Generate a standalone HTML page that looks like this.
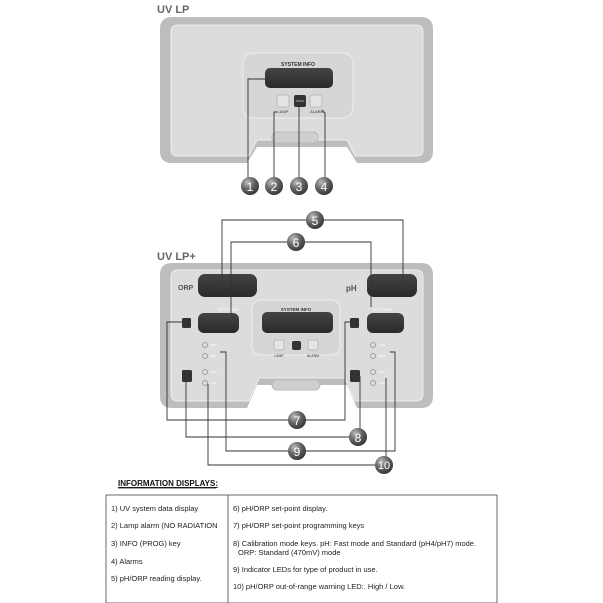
<!DOCTYPE html>
<html><head><style>html,body{margin:0;padding:0;background:#fff;width:603px;height:603px;overflow:hidden}</style></head>
<body>
<svg width="603" height="603" viewBox="0 0 603 603" xmlns="http://www.w3.org/2000/svg" font-family="Liberation Sans, sans-serif">
<defs>
<radialGradient id="ball" cx="35%" cy="30%" r="75%"><stop offset="0" stop-color="#bbb"/><stop offset="0.5" stop-color="#666"/><stop offset="1" stop-color="#333"/></radialGradient>
<linearGradient id="disp" x1="0" x2="0" y1="0" y2="1"><stop offset="0" stop-color="#444"/><stop offset="1" stop-color="#2a2a2a"/></linearGradient>
</defs>
<!-- TOP PANEL -->
<text x="157" y="13" font-size="11" font-weight="bold" fill="#666">UV LP</text>
<path d="M172,17 H421 Q433,17 433,29 V151 Q433,163 421,163 H357 L347,147 H257 L247,163 H172 Q160,163 160,151 V29 Q160,17 172,17Z" fill="#bdbdbd"/>
<path d="M178,25 H416 Q423,25 423,32 V150 Q423,156 416,156 H355 L347,140 H257 L249,156 H178 Q171,156 171,150 V32 Q171,25 178,25Z" fill="#dcdcdc" stroke="#eee"/>
<rect x="243" y="53" width="110" height="65" rx="10" fill="#d6d6d6" stroke="#eee"/>
<text x="298" y="66" font-size="5" font-weight="bold" text-anchor="middle" fill="#333">SYSTEM INFO</text>
<rect x="265" y="68" width="68" height="20" rx="5" fill="url(#disp)"/>
<rect x="277" y="95" width="12" height="12" rx="2" fill="#e4e4e4" stroke="#bbb"/>
<rect x="294" y="95" width="12" height="12" rx="2" fill="#333"/>
<text x="300" y="102" font-size="3" fill="#ccc" text-anchor="middle">PROG</text>
<rect x="310" y="95" width="12" height="12" rx="2" fill="#e4e4e4" stroke="#bbb"/>
<text x="283" y="113" font-size="4" fill="#333" text-anchor="middle">LAMP</text>
<text x="317" y="113" font-size="4" fill="#333" text-anchor="middle">ALARM</text>
<rect x="272" y="132" width="46" height="11" rx="5" fill="#cfcfcf" stroke="#bbb"/>
<g fill="none" stroke="#333" stroke-width="0.9">
<path d="M248,178 V79 H265"/><path d="M274,178 V112 H277"/><path d="M299,178 V107"/><path d="M325,178 V113 L322,110"/>
</g>
<g font-size="12" fill="#fff" text-anchor="middle">
<circle cx="250" cy="186" r="9" fill="url(#ball)"/><text x="250" y="191">1</text>
<circle cx="274" cy="186" r="9" fill="url(#ball)"/><text x="274" y="191">2</text>
<circle cx="299" cy="186" r="9" fill="url(#ball)"/><text x="299" y="191">3</text>
<circle cx="324" cy="186" r="9" fill="url(#ball)"/><text x="324" y="191">4</text>
</g>
<!-- BOTTOM PANEL -->
<text x="157" y="260" font-size="11" font-weight="bold" fill="#666">UV LP+</text>
<path d="M172,263 H421 Q433,263 433,275 V396 Q433,408 421,408 H357 L347,385 H257 L247,408 H172 Q160,408 160,396 V275 Q160,263 172,263Z" fill="#bdbdbd"/>
<path d="M178,270 H416 Q423,270 423,277 V394 Q423,401 416,401 H355 L345,378 H259 L249,401 H178 Q171,401 171,394 V277 Q171,270 178,270Z" fill="#dcdcdc" stroke="#eee"/>
<text x="178" y="290" font-size="7" font-weight="bold" fill="#555">ORP</text>
<text x="346" y="291" font-size="8" font-weight="bold" fill="#555">pH</text>
<rect x="198" y="274" width="59" height="23" rx="7" fill="url(#disp)"/>
<rect x="367" y="274" width="50" height="23" rx="7" fill="url(#disp)"/>
<text x="218" y="311" font-size="4" fill="#fff">SET POINT</text>
<text x="372" y="311" font-size="4" fill="#fff">SET POINT</text>
<rect x="198" y="313" width="41" height="20" rx="6" fill="url(#disp)"/>
<rect x="367" y="313" width="37" height="20" rx="6" fill="url(#disp)"/>
<rect x="252" y="300" width="88" height="55" rx="9" fill="#d6d6d6" stroke="#eee"/>
<text x="296" y="311" font-size="4.5" font-weight="bold" text-anchor="middle" fill="#333">SYSTEM INFO</text>
<rect x="262" y="312" width="71" height="21" rx="5" fill="url(#disp)"/>
<rect x="274" y="340" width="10" height="10" rx="2" fill="#e4e4e4" stroke="#bbb"/>
<rect x="292" y="341" width="9" height="9" rx="2" fill="#333"/>
<rect x="308" y="340" width="10" height="10" rx="2" fill="#e4e4e4" stroke="#bbb"/>
<text x="279" y="357" font-size="3.5" fill="#333" text-anchor="middle">LAMP</text>
<text x="313" y="357" font-size="3.5" fill="#333" text-anchor="middle">ALARM</text>
<rect x="272" y="380" width="48" height="10" rx="5" fill="#cfcfcf" stroke="#bbb"/>
<rect x="182" y="318" width="9" height="10" rx="1.5" fill="#333"/><rect x="350" y="318" width="9" height="10" rx="1.5" fill="#333"/>
<rect x="182" y="370" width="10" height="12" rx="1.5" fill="#333"/><rect x="350" y="370" width="10" height="12" rx="1.5" fill="#333"/>
<g fill="#ddd" stroke="#888" stroke-width="0.7">
<circle cx="205" cy="345" r="2.5"/><circle cx="205" cy="356" r="2.5"/><circle cx="205" cy="372" r="2.5"/><circle cx="205" cy="383" r="2.5"/>
<circle cx="373" cy="345" r="2.5"/><circle cx="373" cy="356" r="2.5"/><circle cx="373" cy="372" r="2.5"/><circle cx="373" cy="383" r="2.5"/>
</g>
<g font-size="3" fill="#fff"><text x="210" y="346">MED</text><text x="210" y="357">BAS</text><text x="210" y="373">HIGH</text><text x="210" y="384">LOW</text>
<text x="378" y="346">ACID</text><text x="378" y="357">BASE</text><text x="378" y="373">HIGH</text><text x="378" y="384">LOW</text></g>
<g fill="none" stroke="#333" stroke-width="0.9">
<path d="M222,281 V220 H403 V283"/>
<path d="M231,314 V242 H371 V307"/>
<path d="M182,322 H167 V420 H345 V322 H350"/>
<path d="M186,382 V437 H357"/><path d="M360,376 V437"/>
<path d="M220,352 H226 V451 H395 V352 H390"/>
<path d="M208,384 V465 H386 V378"/>
</g>
<g font-size="12" fill="#fff" text-anchor="middle">
<circle cx="315" cy="220" r="9" fill="url(#ball)"/><text x="315" y="225">5</text>
<circle cx="296" cy="242" r="9" fill="url(#ball)"/><text x="296" y="247">6</text>
<circle cx="297" cy="420" r="9" fill="url(#ball)"/><text x="297" y="425">7</text>
<circle cx="358" cy="437" r="9" fill="url(#ball)"/><text x="358" y="442">8</text>
<circle cx="297" cy="451" r="9" fill="url(#ball)"/><text x="297" y="456">9</text>
<circle cx="384" cy="465" r="9" fill="url(#ball)"/><text x="384" y="469" font-size="11">10</text>
</g>
<!-- TABLE -->
<text x="118" y="486" font-size="8" font-weight="bold" fill="#111" text-decoration="underline">INFORMATION DISPLAYS:</text>
<line x1="118" y1="488" x2="216" y2="488" stroke="#111" stroke-width="0.7"/>
<rect x="106" y="495" width="391" height="108" fill="none" stroke="#444" stroke-width="0.8"/>
<line x1="228" y1="495" x2="228" y2="603" stroke="#444" stroke-width="0.8"/>
<g font-size="7.5" fill="#222">
<text x="111" y="511">1) UV system data display</text>
<text x="111" y="528">2) Lamp alarm (NO RADIATION</text>
<text x="111" y="546">3) INFO (PROG) key</text>
<text x="111" y="564">4) Alarms</text>
<text x="111" y="581">5) pH/ORP reading display.</text>
<text x="233" y="511">6) pH/ORP set-point display.</text>
<text x="233" y="528">7) pH/ORP set-point programming keys</text>
<text x="233" y="546">8) Calibration mode keys. pH: Fast mode and Standard (pH4/pH7) mode.</text>
<text x="238" y="555">ORP: Standard (470mV) mode</text>
<text x="233" y="572">9) Indicator LEDs for type of product in use.</text>
<text x="233" y="589">10) pH/ORP out-of-range warning LED:. High / Low.</text>
</g>
</svg>
</body></html>
